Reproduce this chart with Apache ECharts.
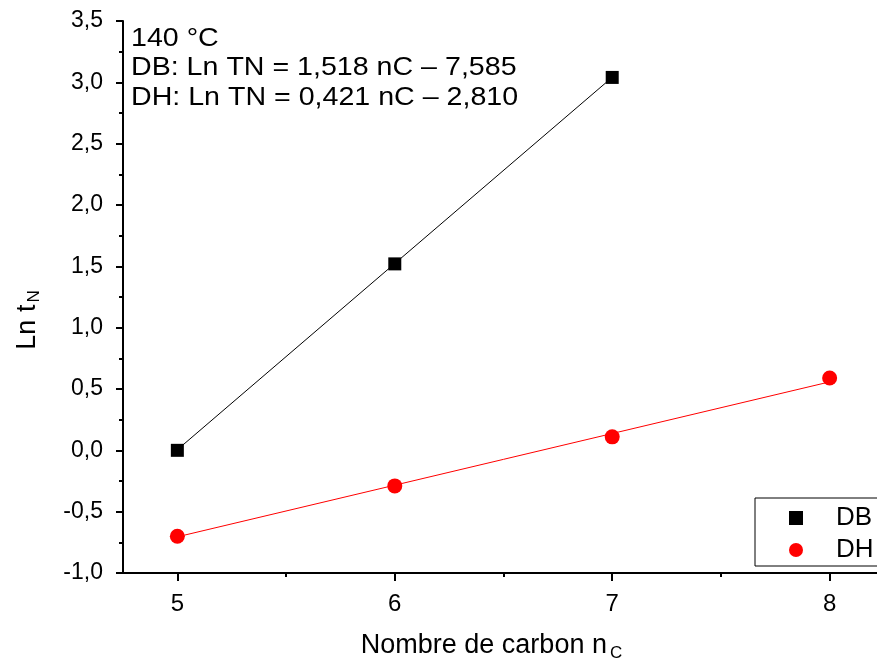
<!DOCTYPE html>
<html>
<head>
<meta charset="utf-8">
<script src="https://cdn.jsdelivr.net/npm/echarts@6/dist/echarts.min.js"></script>
<style>
  html, body { margin: 0; padding: 0; background: #fff; }
  #main { width: 877px; height: 666px; }
</style>
</head>
<body>
<div id="main"></div>
<script>
// carbon numbers
var nDB = [5, 6, 7];
var lnDB = [0.0, 1.52, 3.04];
var nDH = [5, 6, 7, 8];
var lnDH = [-0.70, -0.29, 0.11, 0.59];
// fit lines (slope, intercept) as written on the chart
var fitDB = [1.518, -7.585];
var fitDH = [0.421, -2.810];
var xMajor = [5, 6, 7, 8];
var xMinor = [5.5, 6.5, 7.5];
var noteLines = ['140 °C', 'DB: Ln TN = 1,518 nC – 7,585', 'DH: Ln TN = 0,421 nC – 2,810'];

function pairs(xs, ys) {
  return xs.map(function (x, i) { return [x, ys[i]]; });
}
function fitLine(coef, x0, x1) {
  return [[x0, coef[0] * x0 + coef[1]], [x1, coef[0] * x1 + coef[1]]];
}

var font = 'Liberation Sans, Arial, sans-serif';
var chart = echarts.init(document.getElementById('main'));

chart.setOption({
  backgroundColor: '#fff',
  animation: false,
  textStyle: { fontFamily: font, color: '#000' },
  graphic: [{
    type: 'text',
    x: 131,
    y: 24,
    scaleX: 1.1,
    style: {
      text: noteLines.join('\n'),
      fontFamily: font,
      fontSize: 26,
      lineHeight: 29.5,
      fill: '#000'
    }
  }],
  grid: { left: 123, right: -7, top: 21, bottom: 93, outerBoundsMode: 'none', containLabel: false },
  legend: {
    orient: 'vertical',
    left: 755,
    top: 498,
    width: 140,
    padding: [7, 40, 3, 34],
    itemGap: 6,
    itemWidth: 14,
    itemHeight: 14,
    borderColor: '#000',
    borderWidth: 1,
    borderRadius: 0,
    data: [{ name: 'DB', icon: 'rect' }, { name: 'DH', icon: 'circle' }],
    textStyle: { fontFamily: font, fontSize: 26, color: '#000', padding: [0, 0, 0, 28] }
  },
  xAxis: [{
    type: 'value',
    min: 4.75,
    max: 8.25,
    name: '{a|Nombre de carbon n}{s|C}',
    nameLocation: 'middle',
    nameGap: 56,
    nameTextStyle: {
      padding: [0, 24, 0, 0],
      rich: {
        a: { fontFamily: font, fontSize: 27, color: '#000' },
        s: { fontFamily: font, fontSize: 17, color: '#000', padding: [16, 0, 0, 3] }
      }
    },
    axisLine: { show: true, onZero: false, lineStyle: { color: '#000', width: 2 } },
    axisTick: { show: true, inside: false, length: 8, customValues: xMajor, lineStyle: { color: '#000', width: 2 } },
    axisLabel: { customValues: xMajor, margin: 19, fontSize: 24, color: '#000', fontFamily: font },
    splitLine: { show: false }
  }, {
    type: 'value',
    position: 'bottom',
    min: 4.75,
    max: 8.25,
    axisLine: { show: false, onZero: false },
    axisTick: { show: true, length: 4, customValues: xMinor, lineStyle: { color: '#000', width: 2 } },
    axisLabel: { show: false },
    splitLine: { show: false }
  }],
  yAxis: {
    type: 'value',
    min: -1,
    max: 3.5,
    interval: 0.5,
    name: '{a|Ln t}{s|N}',
    nameLocation: 'middle',
    nameGap: 80,
    nameRotate: 90,
    nameTextStyle: {
      padding: [0, 46, 0, 0],
      rich: {
        a: { fontFamily: font, fontSize: 27, color: '#000' },
        s: { fontFamily: font, fontSize: 17, color: '#000', padding: [14, 0, 0, 2] }
      }
    },
    axisLine: { show: true, onZero: false, lineStyle: { color: '#000', width: 2 } },
    axisTick: { show: true, length: 7, lineStyle: { color: '#000', width: 2 } },
    minorTick: { show: true, splitNumber: 2, length: 4, lineStyle: { color: '#000', width: 2 } },
    axisLabel: {
      margin: 20, fontSize: 23, color: '#000', fontFamily: font,
      formatter: function (v) { return v.toFixed(1).replace('.', ','); }
    },
    splitLine: { show: false }
  },
  series: [{
    name: 'DB fit',
    type: 'line',
    data: fitLine(fitDB, nDB[0], nDB[nDB.length - 1]),
    showSymbol: false,
    lineStyle: { color: '#000', width: 1 },
    z: 1
  }, {
    name: 'DH fit',
    type: 'line',
    data: fitLine(fitDH, nDH[0], nDH[nDH.length - 1]),
    showSymbol: false,
    lineStyle: { color: '#ff0000', width: 1 },
    z: 1
  }, {
    name: 'DB',
    type: 'scatter',
    symbol: 'rect',
    symbolSize: 13,
    data: pairs(nDB, lnDB),
    itemStyle: { color: '#000', opacity: 1 },
    z: 3
  }, {
    name: 'DH',
    type: 'scatter',
    symbol: 'circle',
    symbolSize: 15,
    data: pairs(nDH, lnDH),
    itemStyle: { color: '#ff0000', opacity: 1 },
    z: 3
  }]
});
</script>
</body>
</html>
